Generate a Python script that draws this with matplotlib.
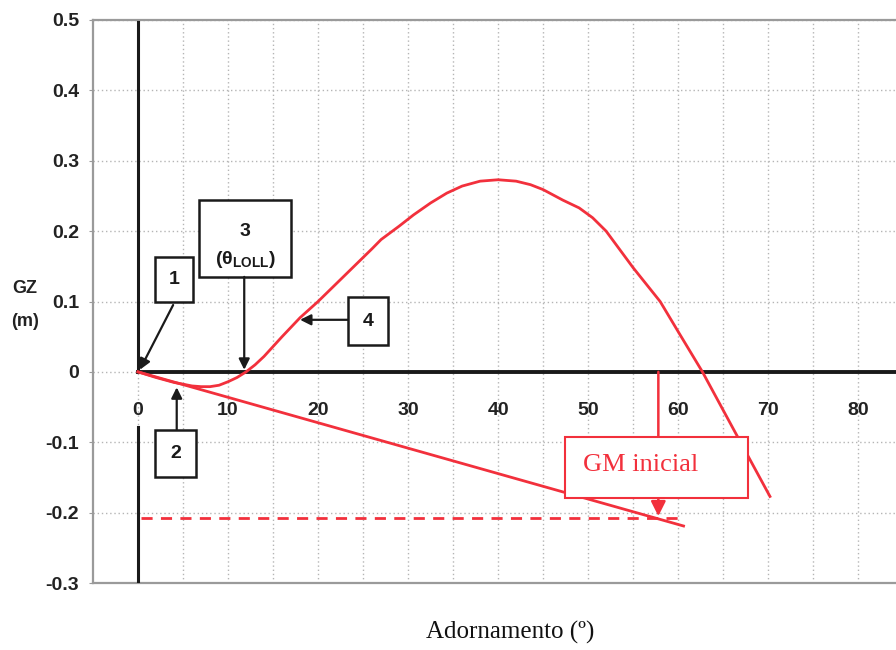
import numpy as np
import matplotlib
matplotlib.use("Agg")
import matplotlib.pyplot as plt
from matplotlib.patches import Rectangle

# GZ curve
heel = [0, 2, 4, 6, 7, 8, 9, 10, 11, 12, 13, 14, 15, 16, 18, 20, 22, 24, 26,
        27, 29, 30.6, 32.5, 34.3, 36, 38, 40, 42, 43.6, 45, 47.2, 49, 50.5,
        52, 55, 58, 60.2, 62.7, 66, 70.2]
gz = [0, -0.008, -0.015, -0.020, -0.021, -0.021, -0.019, -0.014, -0.008,
      0.0, 0.01, 0.022, 0.036, 0.05, 0.077, 0.1, 0.125, 0.15, 0.175, 0.188,
      0.207, 0.223, 0.24, 0.254, 0.264, 0.271, 0.273, 0.271, 0.266, 0.259,
      0.244, 0.233, 0.219, 0.2, 0.148, 0.1, 0.053, 0.0, -0.078, -0.177]

# initial GM tangent and GM level
tangent_x = [0, 60.6]
tangent_y = [0, -0.219]
gm_level = -0.207
gm_x = 57.8

xtick_vals = [0, 10, 20, 30, 40, 50, 60, 70, 80]
ytick_vals = [-0.3, -0.2, -0.1, 0, 0.1, 0.2, 0.3, 0.4, 0.5]

red = "#f2303c"
ink = "#1a1a1a"
sans = "Liberation Sans"
serif = "Liberation Serif"

fig = plt.figure(figsize=(8.96, 6.5), dpi=100)
ax = fig.add_axes([93 / 896, 1 - 583 / 650, 1 - 93 / 896, (583 - 20) / 650])
ax.set_xlim(-5, 84.2)
ax.set_ylim(-0.3, 0.5)

# frame / grid
for s in ["left", "top", "bottom"]:
    ax.spines[s].set_color("#9a9a9a")
    ax.spines[s].set_linewidth(1.6)
ax.spines["right"].set_visible(False)
ax.set_xticks(np.arange(0, 85, 5))
ax.set_xticklabels([])
ax.tick_params(axis="x", length=0)
ax.set_yticks(ytick_vals)
ax.set_yticklabels(["%g" % v for v in ytick_vals], fontfamily=sans,
                   fontweight="bold", fontsize=14, color="#222222")
ax.tick_params(axis="y", length=3, color="#9a9a9a", pad=7)
ax.grid(True, color="#b5b5b5", linestyle=(0, (1, 2)), linewidth=1.0)

# main axes lines
ax.plot([0, 0], [0, 0.497], color=ink, lw=2.2, zorder=3)
ax.plot([0, 0], [-0.078, -0.3], color=ink, lw=2.2, zorder=3)
ax.plot([0, 84.2], [0, 0], color=ink, lw=2.8, zorder=3, clip_on=False)

for v in xtick_vals:
    ax.text(v, -0.055, str(v), ha="center", va="center", fontfamily=sans,
            fontweight="bold", fontsize=14, color="#222222")

# curves
ax.plot(heel, gz, color=red, lw=2.0, zorder=4)
ax.plot(tangent_x, tangent_y, color=red, lw=2.0, zorder=4)
ax.plot([0.3, 60], [gm_level, gm_level], color=red, lw=2.0,
        linestyle=(0, (4, 3)), zorder=4)
ax.annotate("", xy=(gm_x, -0.205), xytext=(gm_x, 0),
            arrowprops=dict(arrowstyle="-|>", color=red, lw=1.8,
                            mutation_scale=22, shrinkA=0, shrinkB=0),
            zorder=4)

# GM inicial box
ax.add_patch(Rectangle((47.4, -0.179), 20.4, 0.087, facecolor="white",
                       edgecolor=red, lw=1.5, zorder=5))
ax.text(49.4, -0.133, "GM inicial", color=red, fontfamily=serif,
        fontsize=19, ha="left", va="center", zorder=6)

# numbered boxes
def box(x0, y0, x1, y1):
    ax.add_patch(Rectangle((x0, y0), x1 - x0, y1 - y0, facecolor="white",
                           edgecolor=ink, lw=1.8, zorder=6))

def arrow(xa, ya, xb, yb):
    ax.annotate("", xy=(xb, yb), xytext=(xa, ya),
                arrowprops=dict(arrowstyle="-|>", color=ink, lw=1.6,
                                mutation_scale=16, shrinkA=0, shrinkB=0),
                zorder=6)

box(1.9, 0.099, 6.1, 0.163)
ax.text(4.0, 0.131, "1", ha="center", va="center", fontfamily=sans,
        fontweight="bold", fontsize=14, color=ink, zorder=7)
arrow(3.9, 0.095, 0.2, 0.003)

box(1.9, -0.149, 6.4, -0.082)
ax.text(4.15, -0.116, "2", ha="center", va="center", fontfamily=sans,
        fontweight="bold", fontsize=14, color=ink, zorder=7)
arrow(4.3, -0.082, 4.3, -0.022)

box(6.8, 0.135, 17.0, 0.244)
ax.text(11.9, 0.2, "3", ha="center", va="center", fontfamily=sans,
        fontweight="bold", fontsize=14, color=ink, zorder=7)
ax.text(11.9, 0.16, r"($\mathregular{\theta_{LOLL}}$)", ha="center",
        va="center", fontfamily=sans, fontweight="bold", fontsize=14,
        color=ink, zorder=7)
arrow(11.8, 0.135, 11.8, 0.003)

box(23.3, 0.038, 27.8, 0.107)
ax.text(25.55, 0.072, "4", ha="center", va="center", fontfamily=sans,
        fontweight="bold", fontsize=14, color=ink, zorder=7)
arrow(23.3, 0.074, 18.0, 0.074)

# axis titles
fig.text(25 / 896, 1 - 288 / 650, "GZ", ha="center", va="center",
         fontfamily=sans, fontweight="bold", fontsize=13, color="#222222")
fig.text(25 / 896, 1 - 321 / 650, "(m)", ha="center", va="center",
         fontfamily=sans, fontweight="bold", fontsize=13, color="#222222")
fig.text(510 / 896, 1 - 632 / 650, "Adornamento (º)", ha="center",
         va="center", fontfamily=serif, fontsize=18, color="#111111")

fig.savefig("out.png", dpi=100)
